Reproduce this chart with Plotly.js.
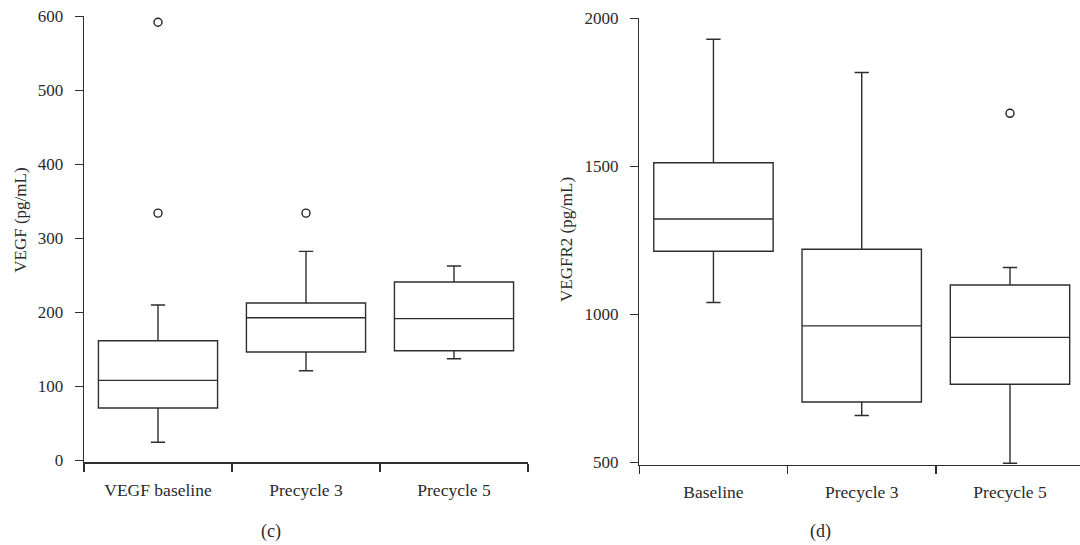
<!DOCTYPE html>
<html>
<head>
<meta charset="utf-8">
<script src="https://cdn.plot.ly/plotly-3.0.1.min.js"></script>
<style>html,body{margin:0;padding:0;background:#fff;}#chart{width:1080px;height:545px;}</style>
</head>
<body>
<div id="chart"></div>
<script>
// Panel (c): VEGF
const catsC = ["VEGF baseline", "Precycle 3", "Precycle 5"];
const cQ1 = [70.7, 146.4, 148.1];
const cMedian = [108, 192.7, 191.4];
const cQ3 = [161.6, 212.6, 241];
const cLow = [24.3, 121.1, 137.3];
const cHigh = [209.9, 282.4, 262.6];
const cOutX = ["VEGF baseline", "VEGF baseline", "Precycle 3"];
const cOutY = [592, 334, 334];
const cTicks = [0, 100, 200, 300, 400, 500, 600];

// Panel (d): VEGFR2
const catsD = ["Baseline", "Precycle 3", "Precycle 5"];
const dQ1 = [1213, 704, 764];
const dMedian = [1322, 961, 922];
const dQ3 = [1512, 1220, 1099];
const dLow = [1040, 658, 497];
const dHigh = [1929, 1817, 1158];
const dOutX = ["Precycle 5"];
const dOutY = [1679];
const dTicks = [500, 1000, 1500, 2000];

const ink = "#2e2e2e";
const fontFam = "Liberation Serif, Times New Roman, serif";

const boxStyle = {
  type: "box",
  line: {color: ink, width: 1.4},
  fillcolor: "rgba(255,255,255,0)",
  whiskerwidth: 0.12,
  width: 0.805,
  boxpoints: false,
  hoverinfo: "skip",
  showlegend: false
};

const traces = [
  Object.assign({}, boxStyle, {
    x: catsC, q1: cQ1, median: cMedian, q3: cQ3,
    lowerfence: cLow, upperfence: cHigh,
    xaxis: "x", yaxis: "y"
  }),
  {
    type: "scatter", mode: "markers", x: cOutX, y: cOutY,
    marker: {symbol: "circle-open", size: 8, color: "#222", line: {width: 1.4, color: "#222"}},
    xaxis: "x", yaxis: "y", showlegend: false, hoverinfo: "skip"
  },
  Object.assign({}, boxStyle, {
    x: catsD, q1: dQ1, median: dMedian, q3: dQ3,
    lowerfence: dLow, upperfence: dHigh,
    xaxis: "x2", yaxis: "y2"
  }),
  {
    type: "scatter", mode: "markers", x: dOutX, y: dOutY,
    marker: {symbol: "circle-open", size: 8, color: "#222", line: {width: 1.4, color: "#222"}},
    xaxis: "x2", yaxis: "y2", showlegend: false, hoverinfo: "skip"
  }
];

const W = 1080, H = 545;
const px = v => v / W;
const py = v => (H - v) / H;

function xAx(domain, cats, range, size) {
  return {
    domain: domain, type: "category", categoryorder: "array", categoryarray: cats,
    range: range, showgrid: false, zeroline: false,
    showline: true, linecolor: ink, linewidth: 1.4,
    ticks: "outside", ticklen: 8, tickwidth: 1.4, tickcolor: ink,
    tickson: "boundaries", ticklabelstandoff: 11,
    tickfont: {family: fontFam, size: size, color: "#2a2a2a"},
    fixedrange: true
  };
}
function yAx(domain, range, ticks, size, anchor) {
  return {
    domain: domain, range: range, anchor: anchor,
    tickmode: "array", tickvals: ticks, ticktext: ticks.map(String),
    showgrid: false, zeroline: false,
    showline: true, linecolor: ink, linewidth: 1.4,
    ticks: "outside", ticklen: 8, tickwidth: 1.4, tickcolor: ink,
    ticklabelstandoff: 8,
    tickfont: {family: fontFam, size: size, color: "#2a2a2a"},
    fixedrange: true
  };
}

const layout = {
  width: W, height: H,
  margin: {l: 0, r: 0, t: 0, b: 0, pad: 0},
  paper_bgcolor: "#fff", plot_bgcolor: "rgba(0,0,0,0)",
  showlegend: false,
  xaxis: Object.assign(xAx([px(84), px(528)], catsC, [-0.5, 2.5], 17.5), {anchor: "y"}),
  yaxis: yAx([py(462.3), py(16.3)], [-2.7, 600], cTicks, 17, "x"),
  xaxis2: Object.assign(xAx([px(639.3), 1], catsD, [-0.5, 2.472], 17.5), {anchor: "y2"}),
  yaxis2: yAx([py(464.7), py(18.3)], [492, 2000], dTicks, 17, "x2"),
  annotations: [
    {text: "VEGF (pg/mL)", textangle: -90, xref: "paper", yref: "paper",
     x: px(19.7), y: py(220), xanchor: "center", yanchor: "middle", showarrow: false,
     font: {family: fontFam, size: 17, color: "#2a2a2a"}},
    {text: "VEGFR2 (pg/mL)", textangle: -90, xref: "paper", yref: "paper",
     x: px(566), y: py(240), xanchor: "center", yanchor: "middle", showarrow: false,
     font: {family: fontFam, size: 17, color: "#2a2a2a"}},
    {text: "(c)", xref: "paper", yref: "paper", x: px(271), y: py(531.7),
     xanchor: "center", yanchor: "middle", showarrow: false,
     font: {family: fontFam, size: 18, color: "#2a2a2a"}},
    {text: "(d)", xref: "paper", yref: "paper", x: px(820.7), y: py(531),
     xanchor: "center", yanchor: "middle", showarrow: false,
     font: {family: fontFam, size: 18, color: "#2a2a2a"}}
  ]
};

Plotly.newPlot("chart", traces, layout, {staticPlot: true, displayModeBar: false});
</script>
</body>
</html>
